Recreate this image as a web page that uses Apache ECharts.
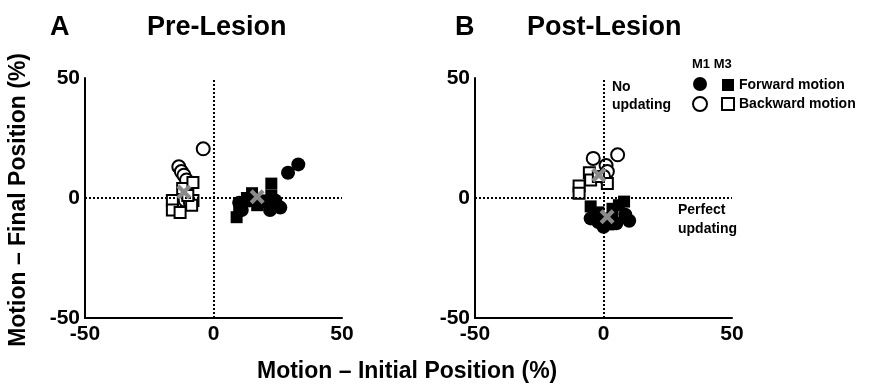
<!DOCTYPE html>
<html><head><meta charset="utf-8">
<script src="https://cdn.jsdelivr.net/npm/echarts@6/dist/echarts.min.js"></script>
<style>html,body{margin:0;padding:0;background:#fff}#c{width:872px;height:385px}</style>
</head><body><div id="c"></div>
<script>
// ---- data ----
const axisTicks = [-50, 0, 50];
const panelTitles = ['Pre-Lesion', 'Post-Lesion'];
const panelLetters = ['A', 'B'];
const seriesNames = ['M1 Forward', 'M1 Backward', 'M3 Forward', 'M3 Backward', 'Mean'];
const legendLabels = ['Forward motion', 'Backward motion'];
// Pre-lesion
const preM1Fwd = [[33,14],[29,10.5],[24,-1],[26,-4],[22,-5],[10,-2],[11,-5],[14,-1],[18,-2]];
const preM3Fwd = [[9,-8],[10,-4],[15,2],[13,0],[22.5,6],[22.5,1],[20,-1],[17,-3]];
const preM1Bwd = [[-4,20.5],[-13.5,13],[-12.5,11],[-11.5,9.5],[-10.5,7.5],[-11,-1],[-9,-2]];
const preM3Bwd = [[-12,4],[-8,6.5],[-8,-1],[-16,-1],[-16,-5],[-13,-6],[-8.5,-3],[-10,1]];
const preMeans = [[-11.5,2.5],[17,0.5]];
// Post-lesion
const postM1Fwd = [[-5,-8.5],[0,-12],[8.5,-7],[10,-9.5],[5,-10.5],[-2,-10],[3,-8]];
const postM3Fwd = [[-5,-3.5],[8,-1.5],[2,-11],[3.5,-4.5],[-2,-6],[6,-3]];
const postM1Bwd = [[-4,16.5],[5.5,18],[1,13.5],[1.5,11],[0,9]];
const postM3Bwd = [[-5.5,10.5],[1.5,6],[-9.5,5],[-9.5,2],[-5,7.5],[-2,9]];
const postMeans = [[-1.8,9.6],[1.4,-7.8]];

const FONT = '"Liberation Sans", Arial, Helvetica, sans-serif';
const X_PATH = 'path://M0,2 L2,0 L5,3 L8,0 L10,2 L7,5 L10,8 L8,10 L5,7 L2,10 L0,8 L3,5 Z';

const chart = echarts.init(document.getElementById('c'), null, {renderer: 'canvas'});

function axes(i, isX) {
  return {
    type: 'value', gridIndex: i, min: axisTicks[0], max: axisTicks[2], interval: 50,
    axisLine: {show: true, onZero: false, lineStyle: {color: '#000', width: 2}},
    axisTick: {show: false},
    splitLine: {show: false},
    axisLabel: {color: '#000', fontWeight: 'bold', fontSize: 21, fontFamily: FONT,
      margin: isX ? 6 : 5,
      formatter: v => axisTicks.includes(v) ? String(v) : ''}
  };
}

function panelSeries(i, m1f, m1b, m3f, m3b, means) {
  const base = {type: 'scatter', xAxisIndex: i, yAxisIndex: i, animation: false};
  return [
    Object.assign({}, base, {name: seriesNames[1], data: m1b, symbol: 'circle', symbolSize: 13,
      itemStyle: {color: '#fff', borderColor: '#000', borderWidth: 2, opacity: 1},
      markLine: {silent: true, symbol: 'none', label: {show: false},
        lineStyle: {type: [2, 2], color: '#000', width: 2},
        data: [{xAxis: 0}, {yAxis: 0}]}}),
    Object.assign({}, base, {name: seriesNames[3], data: m3b, symbol: 'rect', symbolSize: 11,
      itemStyle: {color: '#fff', borderColor: '#000', borderWidth: 2, opacity: 1}}),
    Object.assign({}, base, {name: seriesNames[0], data: m1f, symbol: 'circle', symbolSize: 14,
      itemStyle: {color: '#000', opacity: 1}}),
    Object.assign({}, base, {name: seriesNames[2], data: m3f, symbol: 'rect', symbolSize: 12,
      itemStyle: {color: '#000', opacity: 1}}),
    Object.assign({}, base, {name: seriesNames[4], data: means, symbol: X_PATH, symbolSize: 15, z: 5,
      itemStyle: {color: '#8a8a8a', opacity: 1}})
  ];
}

const titleStyle = {color: '#000', fontWeight: 'bold', fontSize: 27, fontFamily: FONT};

chart.setOption({
  backgroundColor: '#fff',
  animation: false,
  textStyle: {fontFamily: FONT},
  title: [
    {text: panelLetters[0], left: 45, top: 9, textStyle: titleStyle},
    {text: panelTitles[0], left: 142, top: 9, textStyle: titleStyle},
    {text: panelLetters[1], left: 450, top: 9, textStyle: titleStyle},
    {text: panelTitles[1], left: 522, top: 9, textStyle: titleStyle}
  ],
  grid: [
    {left: 85, top: 78, width: 257, height: 240},
    {left: 475, top: 78, width: 257, height: 240}
  ],
  xAxis: [axes(0, true), axes(1, true)],
  yAxis: [axes(0, false), axes(1, false)],
  legend: [
    {data: [seriesNames[0], seriesNames[1]], orient: 'vertical', left: 687, top: 72,
      itemWidth: 14, itemHeight: 14, itemGap: 5, formatter: () => '', selectedMode: false,
      textStyle: {fontSize: 1}},
    {data: [seriesNames[2], seriesNames[3]], orient: 'vertical', left: 716, top: 73,
      itemWidth: 12, itemHeight: 12, itemGap: 5, selectedMode: false,
      formatter: n => n === seriesNames[2] ? legendLabels[0] : legendLabels[1],
      textStyle: {color: '#000', fontWeight: 'bold', fontSize: 14, fontFamily: FONT}}
  ],
  graphic: [
    {type: 'text', left: 692, top: 58, style: {text: 'M1 M3', fill: '#000', font: 'bold 13px ' + FONT}},
    {type: 'text', left: 612, top: 78, style: {text: 'No\nupdating', fill: '#000', font: 'bold 14px ' + FONT, lineHeight: 18}},
    {type: 'text', left: 678, top: 201, style: {text: 'Perfect\nupdating', fill: '#000', font: 'bold 14px ' + FONT, lineHeight: 19}},
    {type: 'text', left: 257, top: 360, style: {text: 'Motion – Initial Position (%)', fill: '#000', font: 'bold 23px ' + FONT}},
    {type: 'text', left: 7, top: 53, rotation: Math.PI / 2, originX: 0, originY: 0,
      style: {text: 'Motion – Final Position (%)', fill: '#000', font: 'bold 23px ' + FONT}}
  ],
  series: [].concat(
    panelSeries(0, preM1Fwd, preM1Bwd, preM3Fwd, preM3Bwd, preMeans),
    panelSeries(1, postM1Fwd, postM1Bwd, postM3Fwd, postM3Bwd, postMeans)
  )
});
</script></body></html>
